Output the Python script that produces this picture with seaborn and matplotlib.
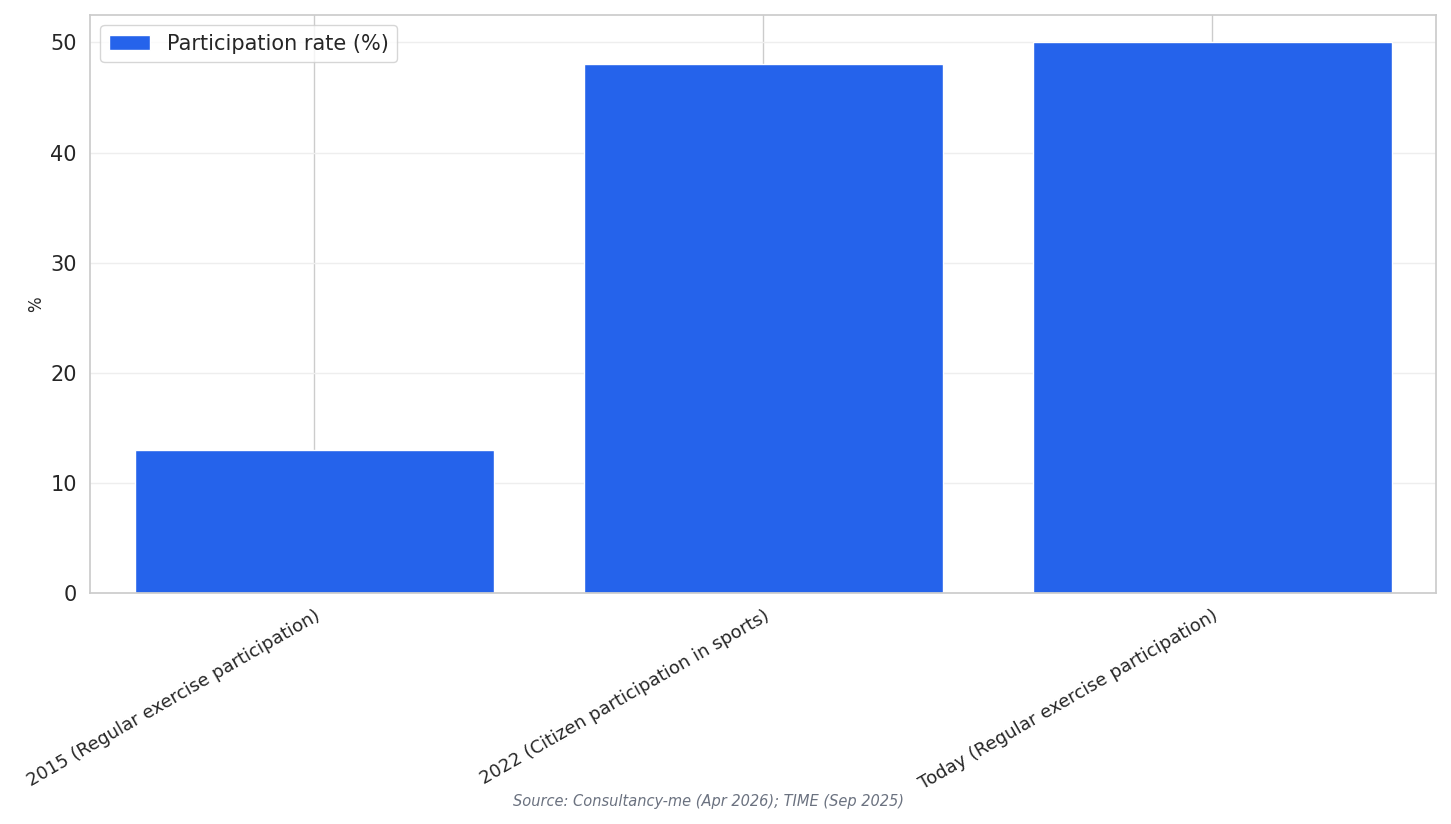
import matplotlib
matplotlib.use("Agg")
import matplotlib.pyplot as plt
import seaborn as sns
import pandas as pd

categories = [
    "2015 (Regular exercise participation)",
    "2022 (Citizen participation in sports)",
    "Today (Regular exercise participation)",
]
rates = [13, 48, 50]
series_name = "Participation rate (%)"

sns.set_theme(style="whitegrid")
plt.rcParams['font.family'] = ['DejaVu Sans']

df = pd.DataFrame({"category": categories, "rate": rates, "series": series_name})

fig, ax = plt.subplots(figsize=(14.51, 8.24), dpi=100)
fig.subplots_adjust(left=0.062, right=0.99, top=0.982, bottom=0.28)

sns.barplot(data=df, x="category", y="rate", hue="series", palette=["#2563EB"],
            width=0.8, saturation=1, ax=ax)

ax.set_xlabel("")
ax.set_ylabel("%", fontsize=12)
ax.set_ylim(0, 52.5)
ax.grid(axis="y", color="#eeeeee")
ax.grid(axis="x", color="#cccccc")
ax.set_axisbelow(True)
for s in ax.spines.values():
    s.set_color("#cccccc")
ax.tick_params(axis="y", labelsize=15)
plt.setp(ax.get_xticklabels(), rotation=30, ha="right", rotation_mode="anchor", fontsize=13)
ax.legend(loc="upper left", fontsize=15)

fig.text(0.488, 0.022, "Source: Consultancy-me (Apr 2026); TIME (Sep 2025)",
         ha="center", fontsize=10.5, style="italic", color="#6b7280")

fig.savefig("out.png", dpi=100)
